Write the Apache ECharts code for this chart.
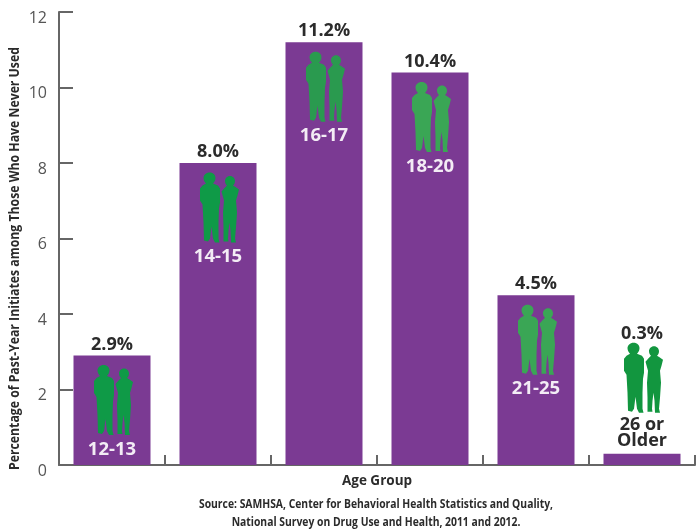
<!DOCTYPE html>
<html><head><meta charset="utf-8">
<style>html,body{margin:0;padding:0;background:#fff}#c{width:697px;height:531px}</style>
<script src="https://cdn.jsdelivr.net/npm/echarts@6/dist/echarts.min.js"></script>
</head><body><div id="c"></div>
<script>
const categories = ['12-13','14-15','16-17','18-20','21-25','26 or\nOlder'];
const values = [2.9,8.0,11.2,10.4,4.5,0.3];
const iconColors = ['#0f9a47','#0f9a47','#2a9a4f','#3aa655','#3aa655','#12963f'];
const yTicks = [0,2,4,6,8,10,12];
const yTitle = 'Percentage of Past-Year Initiates among Those Who Have Never Used';
const xTitle = 'Age Group';
const source = 'Source: SAMHSA, Center for Behavioral Health Statistics and Quality,\nNational Survey on Drug Use and Health, 2011 and 2012.';

const wide = '"Open Sans","Noto Sans",sans-serif';
const people = 'M-8.5,0C-4.5,0-2.5,2.5-2.5,5.5C-2.5,8-4,10-5,11L0,13L2,16L2,30L1,36L0.5,50L0.5,66L1.5,70L-3,70L-5,66L-6.5,54L-8,66L-10,69L-14,68L-14.5,50L-15.5,32L-18,28L-18,16L-15.5,13L-12,11C-13,10-14.5,8-14.5,5.5C-14.5,2.5-12,0-8.5,0Z'
 + 'M12,3.5C15,3.5,17,6,17,8.5C17,10.5,16,12,15,13L17.5,14.5L21,17L19.5,23L18,28L19,40L18,55L17,66L18,70L13,70L12.5,58L11.5,50L10.5,58L10,66L10.5,69L5.5,69L5.5,55L5,40L6,28L3.5,19L6.5,15.5L9,13C8,12,7,10.5,7,8.5C7,6,9,3.5,12,3.5Z';

const chart = echarts.init(document.getElementById('c'), null, {renderer:'canvas'});
chart.setOption({
  animation:false,
  backgroundColor:'#fff',
  grid:{left:59,right:2,top:12,bottom:66,containLabel:false},
  xAxis:{type:'category',data:categories,name:xTitle,nameLocation:'middle',nameGap:9,
    nameTextStyle:{fontFamily:wide,fontWeight:'bold',fontSize:13.5,color:'#2b2b2b'},
    axisLine:{lineStyle:{color:'#666',width:2}},
    axisTick:{show:true,inside:true,length:10,alignWithLabel:false,lineStyle:{color:'#666',width:2}},
    axisLabel:{show:false},splitLine:{show:false}},
  yAxis:{type:'value',min:0,max:12,interval:2,
    axisLine:{show:true,lineStyle:{color:'#666',width:2}},
    axisTick:{show:true,inside:true,length:14,lineStyle:{color:'#666',width:2}},
    axisLabel:{fontFamily:wide,fontSize:16,fontWeight:'normal',color:'#555',margin:12,verticalAlign:'top',lineHeight:12,
      formatter:v=>yTicks.includes(v)?String(v):''},
    splitLine:{show:false}},
  graphic:[
    {type:'text',x:15,y:470,rotation:Math.PI/2,scaleX:0.875,scaleY:1,
      style:{text:yTitle,fontFamily:wide,fontWeight:'bold',fontSize:14,fill:'#2b2b2b',align:'left',verticalAlign:'middle'}},
    {type:'text',x:376,y:496,scaleX:0.9,scaleY:1,
      style:{text:source,fontFamily:wide,fontWeight:'bold',fontSize:11.5,lineHeight:18,fill:'#2b2b2b',align:'center'}}
  ],
  series:[
    {type:'bar',barWidth:77,itemStyle:{color:'#7b3a93'},z:3,
     data:values.map(v=>({value:v,label:{show:true,position:'top',distance:2,
       offset:[0,v<1?-109:0],formatter:p=>p.value.toFixed(1)+'%',
       fontFamily:wide,fontWeight:'bold',fontSize:18,color:'#2b2b2b'}}))},
    {type:'custom',z:5,clip:false,silent:true,
     data:values.map((v,i)=>[i,v]),encode:{x:0,y:1},
     renderItem:(params,api)=>{
       const i=api.value(0),v=api.value(1);
       const [cx,top]=api.coord([i,v]);
       const small=v<1;
       const iconTop=small?top-111:top+9.5;
       const labelY=small?top-21:top+94;
       return {type:'group',children:[
         {type:'path',shape:{pathData:people,layout:'cover',x:cx-18,y:iconTop,width:39,height:70},
          style:{fill:iconColors[i]}},
         {type:'text',x:cx,y:labelY,style:{text:categories[i],fontFamily:wide,fontWeight:'bold',
           fontSize:small?18:18.5,lineHeight:16,fill:small?'#2b2b2b':'#f3ecf5',align:'center',verticalAlign:'middle'}}
       ]};
     }}
  ]
});
</script></body></html>
